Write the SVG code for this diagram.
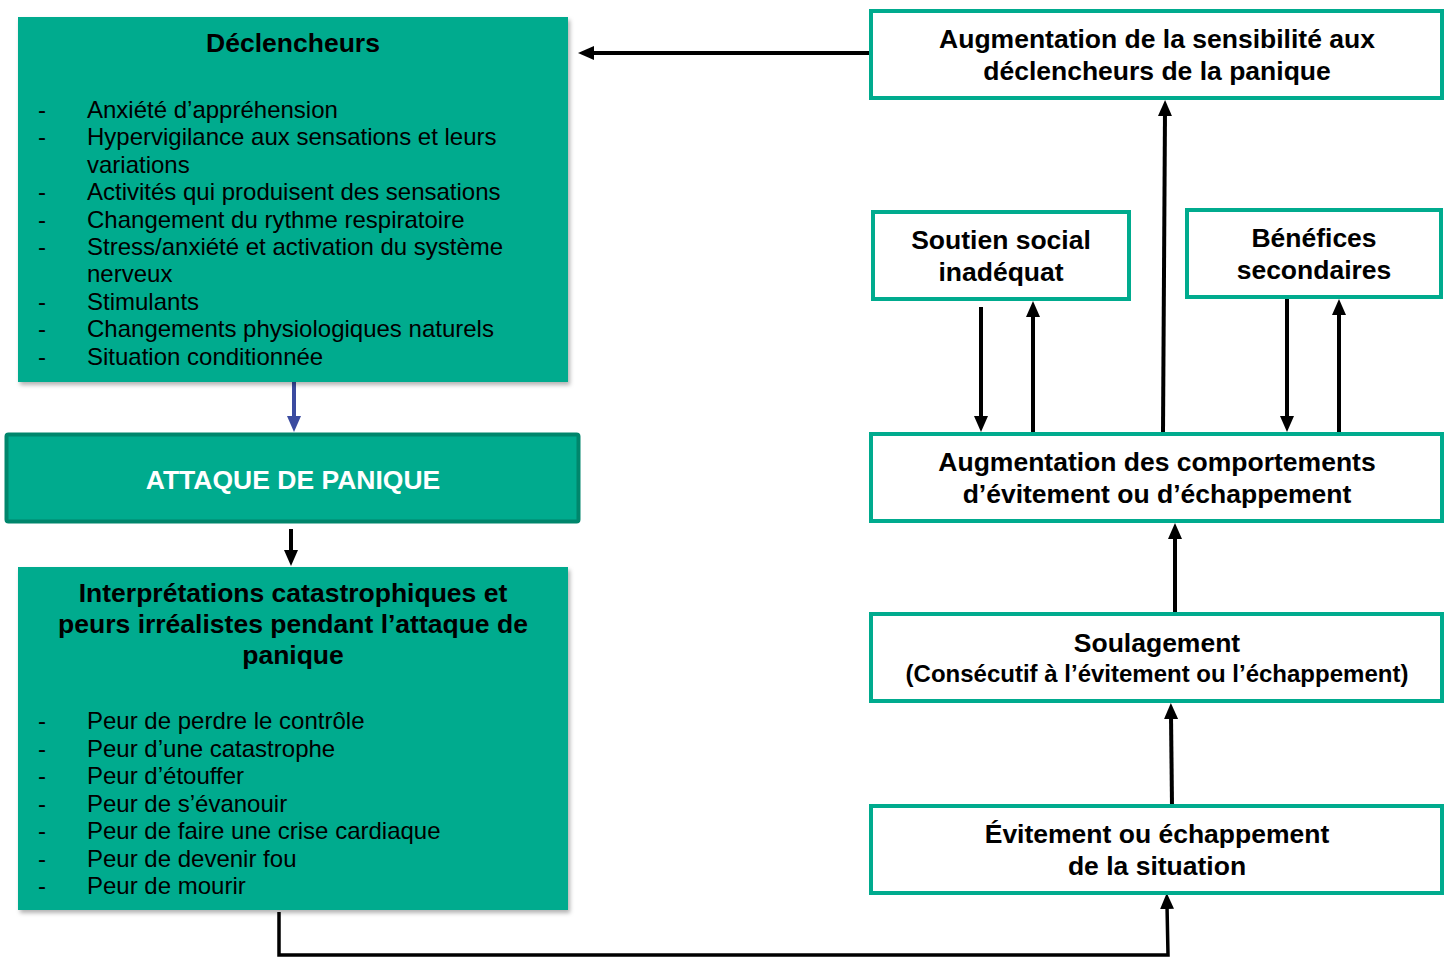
<svg xmlns="http://www.w3.org/2000/svg" width="1448" height="957" viewBox="0 0 1448 957">
<style>
.green{fill:#00AB8E}
.wbox{fill:#ffffff;stroke:#00AB8E;stroke-width:4}
.t{font-family:"Liberation Sans",Arial,sans-serif;fill:#000}
.b{font-weight:bold;font-size:26.5px;text-anchor:middle}
.li{font-size:24px}
.conn{fill:none;stroke:#000;stroke-width:4}
</style>
<defs>
<filter id="sh" x="-5%" y="-5%" width="110%" height="110%">
<feDropShadow dx="2" dy="3" stdDeviation="2" flood-color="#000" flood-opacity="0.3"/>
</filter>
<marker id="ah" markerUnits="userSpaceOnUse" markerWidth="16" markerHeight="14" viewBox="0 0 16 14" refX="4" refY="7" orient="auto">
<path d="M0,0 L16,7 L0,14 z" fill="#000"/>
</marker>
<marker id="ahb" markerUnits="userSpaceOnUse" markerWidth="16" markerHeight="14" viewBox="0 0 16 14" refX="4" refY="7" orient="auto">
<path d="M0,0 L16,7 L0,14 z" fill="#3B4BA0"/>
</marker>
</defs>
<rect width="1448" height="957" fill="#fff"/>

<g id="connectors">
<line class="conn" x1="870" y1="53" x2="590" y2="53" marker-end="url(#ah)"/>
<line x1="294" y1="382" x2="294" y2="420" stroke="#3B4BA0" stroke-width="4" marker-end="url(#ahb)"/>
<line class="conn" x1="291" y1="529" x2="291" y2="554" marker-end="url(#ah)"/>
<polyline class="conn" style="stroke-width:3.5" points="279,912 279,955 1168,955 1167,905" marker-end="url(#ah)"/>
<line class="conn" x1="1172" y1="805" x2="1171" y2="715" marker-end="url(#ah)"/>
<line class="conn" x1="1175" y1="613" x2="1175" y2="535" marker-end="url(#ah)"/>
<line class="conn" x1="1163" y1="433" x2="1165" y2="112" marker-end="url(#ah)"/>
<line class="conn" x1="981" y1="307" x2="981" y2="420" marker-end="url(#ah)"/>
<line class="conn" x1="1033" y1="433" x2="1033" y2="313" marker-end="url(#ah)"/>
<line class="conn" x1="1287" y1="299" x2="1287" y2="420" marker-end="url(#ah)"/>
<line class="conn" x1="1339" y1="433" x2="1339" y2="311" marker-end="url(#ah)"/>
</g>

<g id="declencheurs">
<rect class="green" x="18" y="17" width="550" height="365" filter="url(#sh)"/>
<text class="t b" x="293" y="52">Déclencheurs</text>
<g class="t li">
<text x="38" y="118">-</text><text x="87" y="118">Anxiété d’appréhension</text>
<text x="38" y="145.4">-</text><text x="87" y="145.4">Hypervigilance aux sensations et leurs</text>
<text x="87" y="172.8">variations</text>
<text x="38" y="200.2">-</text><text x="87" y="200.2">Activités qui produisent des sensations</text>
<text x="38" y="227.6">-</text><text x="87" y="227.6">Changement du rythme respiratoire</text>
<text x="38" y="255">-</text><text x="87" y="255">Stress/anxiété et activation du système</text>
<text x="87" y="282.4">nerveux</text>
<text x="38" y="309.8">-</text><text x="87" y="309.8">Stimulants</text>
<text x="38" y="337.2">-</text><text x="87" y="337.2">Changements physiologiques naturels</text>
<text x="38" y="364.6">-</text><text x="87" y="364.6">Situation conditionnée</text>
</g>
</g>

<g id="attaque">
<rect x="6.5" y="434.5" width="572" height="87" rx="2" fill="#00AB8E" stroke="#00866C" stroke-width="4"/>
<text class="t b" x="293" y="489" style="fill:#fff">ATTAQUE DE PANIQUE</text>
</g>

<g id="interpretations">
<rect class="green" x="18" y="567" width="550" height="343" filter="url(#sh)"/>
<text class="t b" x="293" y="602">Interprétations catastrophiques et</text>
<text class="t b" x="293" y="633">peurs irréalistes pendant l’attaque de</text>
<text class="t b" x="293" y="664">panique</text>
<g class="t li">
<text x="38" y="729">-</text><text x="87" y="729">Peur de perdre le contrôle</text>
<text x="38" y="757">-</text><text x="87" y="757">Peur d’une catastrophe</text>
<text x="38" y="784">-</text><text x="87" y="784">Peur d’étouffer</text>
<text x="38" y="812">-</text><text x="87" y="812">Peur de s’évanouir</text>
<text x="38" y="839">-</text><text x="87" y="839">Peur de faire une crise cardiaque</text>
<text x="38" y="867">-</text><text x="87" y="867">Peur de devenir fou</text>
<text x="38" y="894">-</text><text x="87" y="894">Peur de mourir</text>
</g>
</g>

<g id="sensibilite">
<rect class="wbox" x="871" y="11" width="571" height="87"/>
<text class="t b" x="1157" y="48">Augmentation de la sensibilité aux</text>
<text class="t b" x="1157" y="80">déclencheurs de la panique</text>
</g>

<g id="soutien">
<rect class="wbox" x="873" y="212" width="256" height="87"/>
<text class="t b" x="1001" y="249">Soutien social</text>
<text class="t b" x="1001" y="281">inadéquat</text>
</g>

<g id="benefices">
<rect class="wbox" x="1187" y="210" width="254" height="87"/>
<text class="t b" x="1314" y="247">Bénéfices</text>
<text class="t b" x="1314" y="279">secondaires</text>
</g>

<g id="comportements">
<rect class="wbox" x="871" y="434" width="571" height="87"/>
<text class="t b" x="1157" y="471">Augmentation des comportements</text>
<text class="t b" x="1157" y="503">d’évitement ou d’échappement</text>
</g>

<g id="soulagement">
<rect class="wbox" x="871" y="614" width="571" height="87"/>
<text class="t b" x="1157" y="652">Soulagement</text>
<text class="t b" x="1157" y="682" style="font-size:24px">(Consécutif à l’évitement ou l’échappement)</text>
</g>

<g id="evitement">
<rect class="wbox" x="871" y="806" width="571" height="87"/>
<text class="t b" x="1157" y="843">Évitement ou échappement</text>
<text class="t b" x="1157" y="875">de la situation</text>
</g>
</svg>
